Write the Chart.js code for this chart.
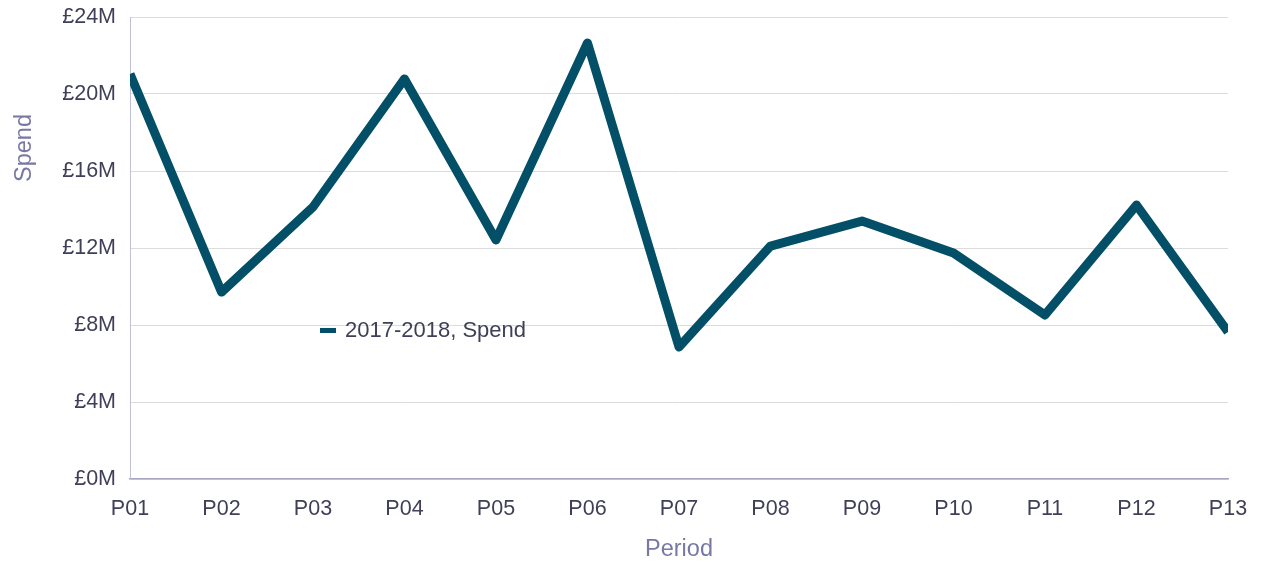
<!DOCTYPE html>
<html>
<head>
<meta charset="utf-8">
<script src="https://cdn.jsdelivr.net/npm/chart.js@4/dist/chart.umd.min.js"></script>
<style>
  html, body { margin: 0; padding: 0; background: #fff; }
  #wrap { position: relative; width: 1268px; height: 563px; }
  #legend {
    position: absolute; left: 320px; top: 317px;
    font-family: "Liberation Sans", Arial, sans-serif; font-size: 22px; color: #3f3f58;
    display: flex; align-items: center; white-space: nowrap;
  }
  #legend span.sw { display: inline-block; width: 16px; height: 5px; background: #034f67; margin-right: 9px; }
</style>
</head>
<body>
<div id="wrap">
  <canvas id="myChart" width="1268" height="563"></canvas>
  <div id="legend"><span class="sw"></span><span>2017-2018, Spend</span></div>
</div>
<script>
var periods = ['P01', 'P02', 'P03', 'P04', 'P05', 'P06', 'P07', 'P08', 'P09', 'P10', 'P11', 'P12', 'P13'];
var spend = [21.04, 9.71, 14.13, 20.78, 12.42, 22.65, 6.86, 12.1, 13.4, 11.74, 8.52, 14.23, 7.64];
var seriesName = '2017-2018, Spend';

var ctx = document.getElementById('myChart');

// axis titles are placed by hand: the y one sits above the axis middle in the original
var axisTitles = {
    id: 'axisTitles',
    afterDraw: function (chart) {
        var c = chart.ctx;
        var area = chart.chartArea;
        c.save();
        c.fillStyle = '#7878a4';
        c.font = '23.5px "Liberation Sans"';
        c.textAlign = 'center';
        c.textBaseline = 'middle';
        c.fillText('Period', (area.left + area.right) / 2, 550);
        c.translate(25, 148);
        c.rotate(-Math.PI / 2);
        c.fillText('Spend', 0, 0);
        c.restore();
    }
};

var myChart = new Chart(ctx, {
    type: 'line',
    data: {
        labels: periods,
        datasets: [{
            label: seriesName,
            data: spend,
            borderColor: '#034f67',
            borderWidth: 9,
            borderJoinStyle: 'round',
            pointRadius: 0,
            tension: 0,
            clip: 0
        }]
    },
    plugins: [axisTitles],
    options: {
        responsive: false,
        animation: false,
        layout: { padding: { top: 17, right: 40, left: 0, bottom: 0 } },
        plugins: {
            legend: { display: false },
            tooltip: { enabled: false }
        },
        scales: {
            x: {
                offset: false,
                grid: { display: false, drawTicks: false },
                border: { display: true, color: '#a6a6c4', width: 1.5 },
                ticks: {
                    color: '#3f3f58',
                    font: { family: 'Liberation Sans', size: 21.5 },
                    padding: 17,
                    maxRotation: 0
                },
                title: { display: false },
                afterFit: function (scale) {
                    scale.height = 84;
                    scale.paddingLeft = 0;
                    scale.paddingRight = 0;
                }
            },
            y: {
                min: 0,
                max: 24,
                grid: { color: '#dcdcdc', drawTicks: false, lineWidth: 1 },
                border: { display: true, color: '#c0c0d8', width: 1 },
                ticks: {
                    stepSize: 4,
                    color: '#3f3f58',
                    font: { family: 'Liberation Sans', size: 21.5 },
                    padding: 14,
                    callback: function (v) { return '£' + v + 'M'; }
                },
                title: { display: false },
                afterFit: function (scale) {
                    scale.width = 130;
                    scale.paddingTop = 0;
                    scale.paddingBottom = 0;
                }
            }
        }
    }
});
</script>
</body>
</html>
